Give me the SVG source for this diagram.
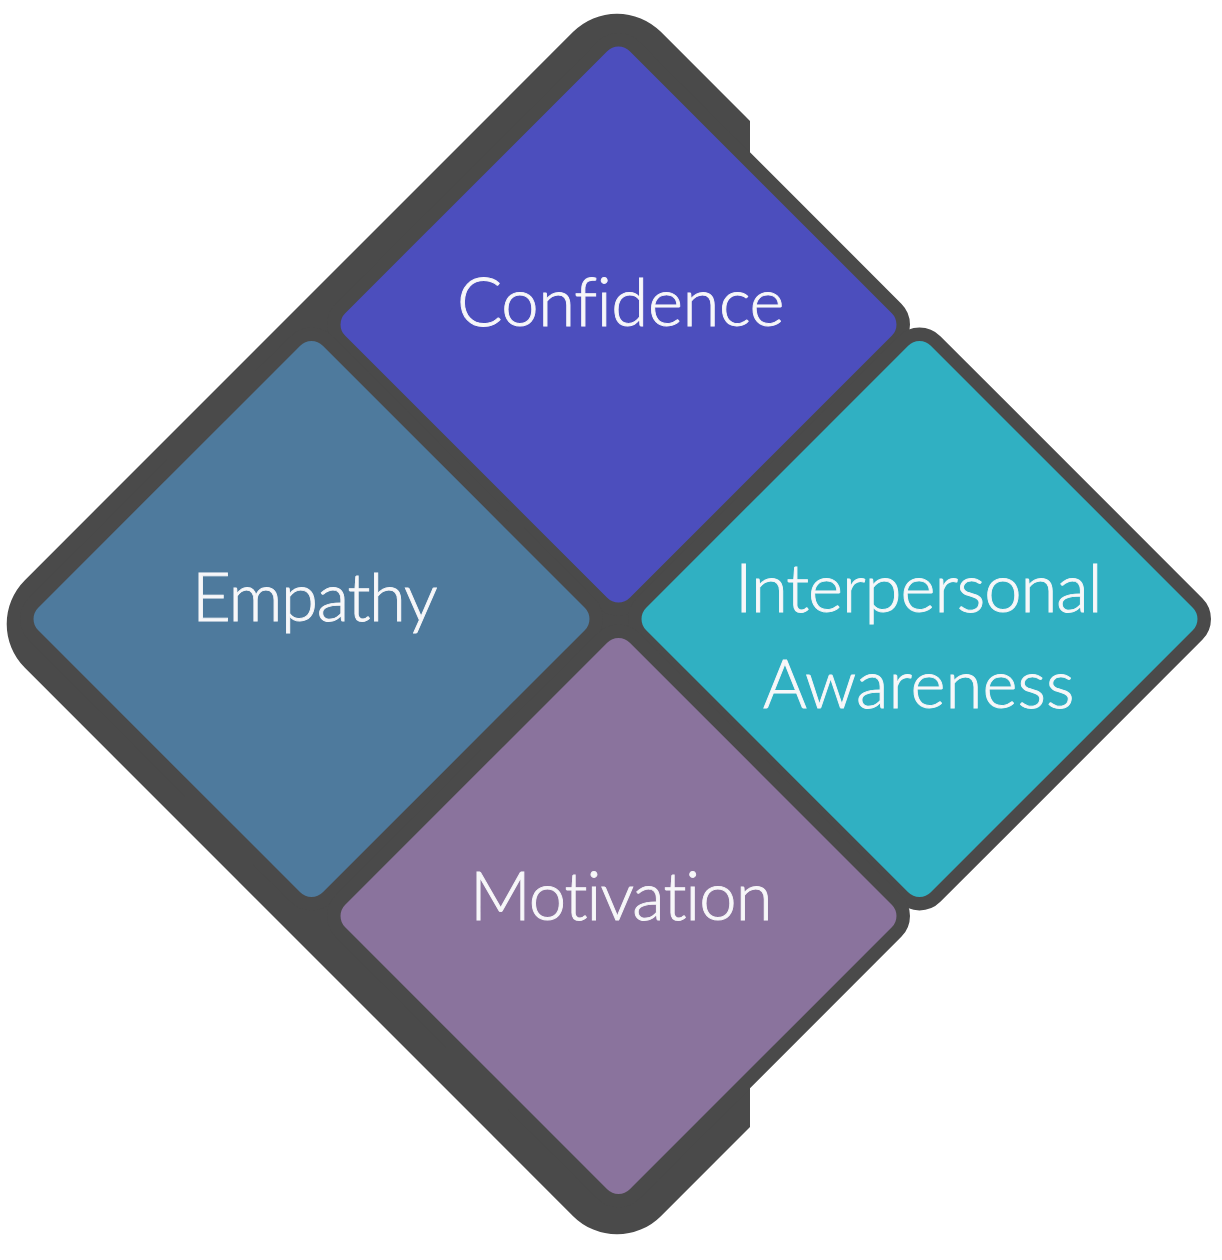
<svg xmlns="http://www.w3.org/2000/svg" width="1222" height="1260" viewBox="0 0 1222 1260">
  <defs>
    <style>
      .bg { fill: #4a4a4a; }
      .tile { stroke: #4a4a4a; stroke-width: 27; paint-order: stroke fill; stroke-linejoin: round; }
      .lbl { font-family: "Lato", "Liberation Sans", sans-serif; font-size: 67px; font-weight: 300; fill: #f7f7f9; stroke: #f7f7f9; stroke-width: 0.9px; text-anchor: middle; font-variant-ligatures: none; font-feature-settings: "liga" 0, "clig" 0; letter-spacing: 0.5px; }
    </style>
    <clipPath id="clipLeft">
      <rect x="0" y="0" width="750" height="1260"/>
    </clipPath>
  </defs>
  <g id="background" clip-path="url(#clipLeft)">
    <rect class="bg" x="-449.7" y="-449.7" width="899.4" height="899.4" rx="62" ry="62" transform="translate(617 624) rotate(45)"/>
  </g>
  <g id="connectors"></g>
  <g id="node-confidence">
    <rect class="tile" fill="#4c4ebd" x="-201.25" y="-201.25" width="402.5" height="402.5" rx="16" ry="16" transform="translate(618.5 324.5) rotate(45)"/>
    <text class="lbl" x="621" y="326" textLength="328" lengthAdjust="spacing">Confidence</text>
  </g>
  <g id="node-empathy">
    <rect class="tile" fill="#4e7a9d" x="-201.25" y="-201.25" width="402.5" height="402.5" rx="16" ry="16" transform="translate(311.5 619) rotate(45)"/>
    <text class="lbl" x="315" y="621" textLength="246" lengthAdjust="spacing">Empathy</text>
  </g>
  <g id="node-interpersonal-awareness">
    <rect class="tile" fill="#30b0c2" x="-201.25" y="-201.25" width="402.5" height="402.5" rx="16" ry="16" transform="translate(919.5 619) rotate(45)"/>
    <text class="lbl" x="919" y="611.7" textLength="368" lengthAdjust="spacing">Interpersonal</text>
    <text class="lbl" x="919" y="708.3" textLength="312" lengthAdjust="spacing">Awareness</text>
  </g>
  <g id="node-motivation">
    <rect class="tile" fill="#8a739d" x="-201.25" y="-201.25" width="402.5" height="402.5" rx="16" ry="16" transform="translate(618.5 916) rotate(45)"/>
    <text class="lbl" x="621.5" y="920" textLength="303" lengthAdjust="spacing">Motivation</text>
  </g>
</svg>
